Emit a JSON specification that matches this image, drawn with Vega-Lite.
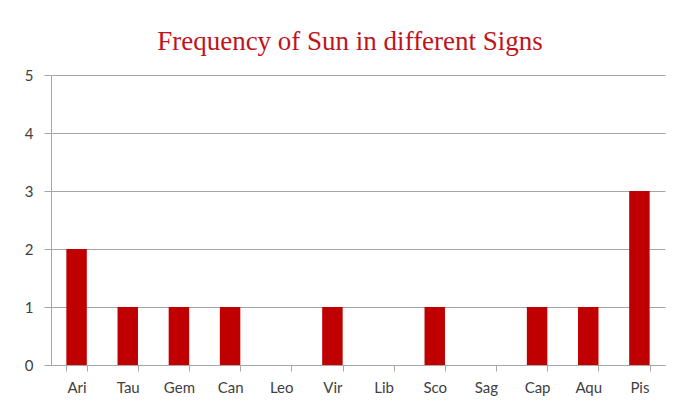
{
  "$schema": "https://vega.github.io/schema/vega-lite/v6.json",
  "width": 614,
  "height": 290,
  "autosize": {"type": "none"},
  "padding": {"left": 51, "top": 75, "right": 27, "bottom": 45},
  "background": "white",
  "title": {
    "text": "Frequency of Sun in different Signs",
    "font": "Liberation Serif",
    "fontSize": 27,
    "fontWeight": "normal",
    "color": "#C0141C",
    "anchor": "middle",
    "dx": -8,
    "offset": 12
  },
  "data": {
    "values": [
      {"sign": "Ari", "count": 2},
      {"sign": "Tau", "count": 1},
      {"sign": "Gem", "count": 1},
      {"sign": "Can", "count": 1},
      {"sign": "Leo", "count": 0},
      {"sign": "Vir", "count": 1},
      {"sign": "Lib", "count": 0},
      {"sign": "Sco", "count": 1},
      {"sign": "Sag", "count": 0},
      {"sign": "Cap", "count": 1},
      {"sign": "Aqu", "count": 1},
      {"sign": "Pis", "count": 3}
    ]
  },
  "mark": {"type": "bar", "color": "#C00000"},
  "encoding": {
    "x": {
      "field": "sign",
      "type": "nominal",
      "sort": null,
      "scale": {"paddingInner": 0.6, "paddingOuter": 0.3},
      "axis": {
        "title": null,
        "labelAngle": 0,
        "tickBand": "extent",
        "tickSize": 6,
        "tickColor": "#A6A6A6",
        "domainColor": "#A6A6A6",
        "labelFont": "Lato",
        "labelFontSize": 15,
        "labelColor": "#404040",
        "labelPadding": 9,
        "grid": false
      }
    },
    "y": {
      "field": "count",
      "type": "quantitative",
      "scale": {"domain": [0, 5], "nice": false},
      "axis": {
        "title": null,
        "values": [0, 1, 2, 3, 4, 5],
        "tickSize": 7,
        "tickColor": "#A6A6A6",
        "domainColor": "#A6A6A6",
        "gridColor": "#A6A6A6",
        "grid": true,
        "labelFont": "Lato",
        "labelFontSize": 15,
        "labelColor": "#404040",
        "labelPadding": 11
      }
    }
  },
  "config": {
    "view": {"stroke": null}
  }
}
